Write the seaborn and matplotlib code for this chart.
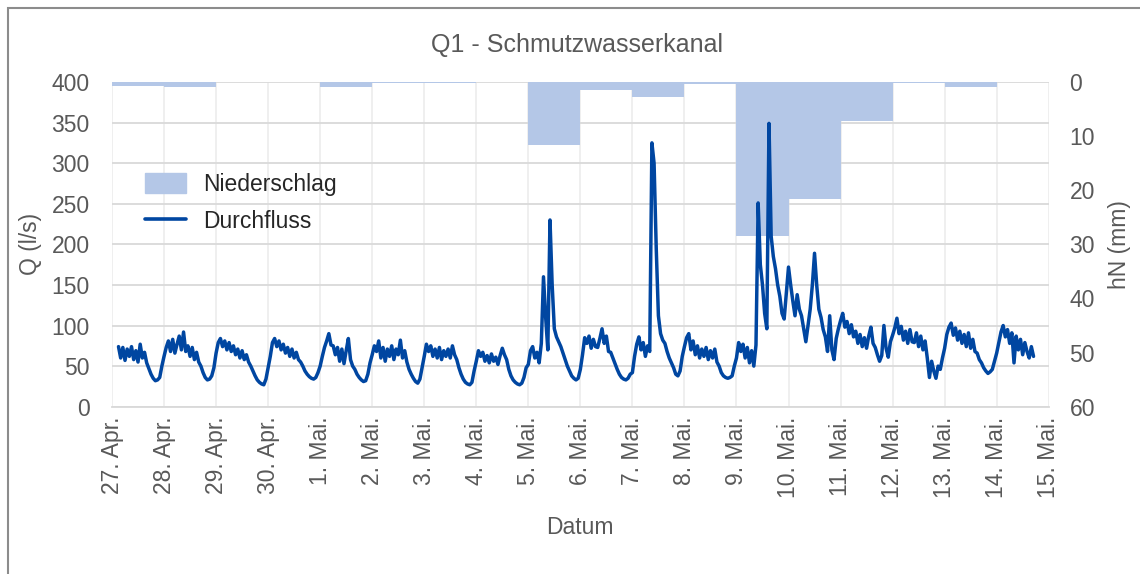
import numpy as np
import pandas as pd
import matplotlib
matplotlib.use("Agg")
import matplotlib.pyplot as plt
import seaborn as sns
from matplotlib.patches import Patch, Rectangle
from matplotlib.lines import Line2D

# ---------------- data ----------------
day_labels = ["27. Apr.", "28. Apr.", "29. Apr.", "30. Apr.", "1. Mai.", "2. Mai.", "3. Mai.",
              "4. Mai.", "5. Mai.", "6. Mai.", "7. Mai.", "8. Mai.", "9. Mai.", "10. Mai.",
              "11. Mai.", "12. Mai.", "13. Mai.", "14. Mai.", "15. Mai."]

# daily precipitation hN (mm), 27 Apr .. 14 Mai
niederschlag = [0.7, 0.85, 0.0, 0.0, 0.85, 0.15, 0.15, 0.0, 11.7, 1.5, 2.7, 0.4,
                28.5, 21.7, 7.2, 0.25, 0.9, 0.0]

# hourly discharge Q (l/s); series starts 27 Apr 03:00
start_hour = 3
q_27apr = [74, 60, 73, 57, 71, 62, 74, 58, 69, 55, 77, 60, 67, 54, 47, 40, 35, 32, 33, 36, 50]
q_28apr = [62, 73, 81, 68, 83, 66, 77, 87, 70, 92, 68, 75, 62, 73, 58, 67, 55, 50, 42, 36, 33, 34, 38, 48]
q_29apr = [66, 79, 84, 74, 81, 70, 79, 68, 75, 64, 71, 60, 69, 58, 64, 55, 50, 44, 38, 33, 30, 28, 27, 34]
q_30apr = [48, 62, 79, 84, 74, 81, 70, 77, 66, 73, 62, 71, 60, 67, 58, 55, 50, 44, 40, 37, 35, 34, 36, 42]
q_01mai = [50, 62, 73, 81, 90, 76, 75, 64, 73, 56, 71, 53, 69, 84, 58, 50, 46, 40, 36, 33, 31, 32, 40, 54]
q_02mai = [64, 75, 68, 81, 60, 73, 56, 71, 62, 75, 58, 71, 64, 82, 60, 69, 55, 46, 40, 35, 31, 29, 34, 48]
q_03mai = [62, 77, 68, 75, 62, 71, 60, 73, 58, 69, 62, 71, 60, 75, 64, 58, 48, 40, 34, 30, 28, 27, 30, 44]
q_04mai = [56, 69, 62, 67, 56, 63, 54, 65, 56, 61, 52, 63, 72, 64, 58, 46, 38, 33, 30, 28, 27, 29, 36, 48]
q_05mai = [52, 69, 74, 60, 67, 54, 78, 160, 110, 70, 230, 150, 96, 86, 80, 74, 66, 58, 50, 44, 38, 35, 33, 35]
q_06mai = [46, 64, 85, 78, 87, 72, 83, 74, 73, 84, 96, 78, 87, 68, 67, 60, 53, 46, 40, 36, 34, 33, 35, 40]
q_07mai = [42, 62, 77, 86, 70, 79, 62, 75, 68, 325, 300, 195, 112, 90, 82, 78, 68, 60, 54, 48, 40, 38, 44, 62]
q_08mai = [74, 85, 90, 70, 81, 64, 75, 60, 71, 62, 73, 58, 69, 60, 71, 55, 50, 42, 38, 36, 35, 36, 38, 50]
q_09mai = [60, 79, 68, 77, 60, 73, 54, 69, 50, 76, 251, 175, 150, 115, 96, 349, 210, 185, 170, 150, 136, 115, 108, 140]
q_10mai = [172, 150, 130, 112, 138, 120, 112, 96, 80, 100, 120, 150, 189, 150, 120, 110, 95, 86, 68, 112, 70, 58, 84, 96]
q_11mai = [106, 115, 98, 105, 90, 101, 86, 93, 78, 89, 74, 85, 72, 87, 98, 78, 73, 64, 56, 63, 100, 72, 61, 80]
q_12mai = [88, 97, 109, 90, 99, 82, 93, 78, 95, 80, 79, 91, 74, 87, 70, 81, 60, 36, 56, 44, 35, 50, 46, 60]
q_13mai = [72, 89, 98, 103, 88, 97, 82, 93, 78, 89, 74, 91, 72, 83, 68, 66, 58, 54, 48, 44, 41, 43, 46, 56]
q_14mai = [66, 79, 92, 100, 86, 95, 78, 91, 54, 87, 70, 83, 64, 79, 68, 60, 74, 62]

durchfluss = (q_27apr + q_28apr + q_29apr + q_30apr + q_01mai + q_02mai + q_03mai + q_04mai
              + q_05mai + q_06mai + q_07mai + q_08mai + q_09mai + q_10mai + q_11mai + q_12mai
              + q_13mai + q_14mai)

t_days = (start_hour + np.arange(len(durchfluss))) / 24.0
df_q = pd.DataFrame({"t": t_days, "Q": durchfluss})
day_centers = np.arange(len(niederschlag)) + 0.5
df_p = pd.DataFrame({"t": day_centers, "hN": niederschlag})

# ---------------- style ----------------
sns.set_theme(style="white")
plt.rcParams["font.family"] = ["Liberation Sans", "DejaVu Sans"]
GRAY = "#595959"
LINE = "#0046A1"
BAR = "#B4C7E7"
FS = 16.5

W, H = 1140, 574
fig = plt.figure(figsize=(W / 100, H / 100), dpi=100)
fig.patch.set_facecolor("white")
x0, x1, y0, y1 = 112, 1048.7, 82, 406.7
ax = fig.add_axes([x0 / W, 1 - y1 / H, (x1 - x0) / W, (y1 - y0) / H])
axP = ax.twinx()
axL = ax.twinx()

# precipitation bars (hanging from top, inverted axis)
sns.histplot(data=df_p, x="t", weights="hN", binwidth=1, binrange=(0, 18), ax=axP,
             color=BAR, alpha=1, linewidth=0, edgecolor=BAR, legend=False)
# discharge line
sns.lineplot(data=df_q, x="t", y="Q", ax=axL, color=LINE, linewidth=2.5, legend=False)

# ---- axes setup ----
ax.set_xlim(0, 18)
ax.set_ylim(0, 400)
ax.set_yticks(np.arange(0, 401, 50))
ax.set_xticks(np.arange(0, 19))
ax.set_xticklabels(day_labels, rotation=90)
ax.tick_params(axis="y", length=0, pad=16, labelsize=FS, labelcolor=GRAY)
ax.tick_params(axis="x", length=0, pad=7, labelsize=FS, labelcolor=GRAY)
for s in ["top", "left", "right"]:
    ax.spines[s].set_visible(False)
ax.spines["bottom"].set_color("#D9D9D9")
ax.spines["bottom"].set_linewidth(1.3)
ax.yaxis.grid(True, color="#D9D9D9", linewidth=1.3)
ax.xaxis.grid(True, color="#EEEEEE", linewidth=1.3)
ax.set_axisbelow(True)
ax.set_ylabel("Q (l/s)", fontsize=FS, color=GRAY, labelpad=7)
ax.set_xlabel("Datum", fontsize=FS, color=GRAY, labelpad=13)

axP.set_xlim(0, 18)
axP.set_ylim(60, 0)
axP.set_yticks(np.arange(0, 61, 10))
axP.tick_params(axis="y", length=0, pad=15, labelsize=FS, labelcolor=GRAY)
axP.set_ylabel("hN (mm)", fontsize=FS, color=GRAY, labelpad=9)
axP.set_xlabel("")
for s in axP.spines.values():
    s.set_visible(False)

axL.set_ylim(0, 400)
axL.set_xlim(0, 18)
axL.yaxis.set_visible(False)
axL.set_xlabel("")
for s in axL.spines.values():
    s.set_visible(False)

# legend
handles = [Patch(facecolor=BAR, edgecolor=BAR, label="Niederschlag"),
           Line2D([0], [0], color=LINE, linewidth=2.6, label="Durchfluss")]
fig.legend(handles=handles, loc="upper left", bbox_to_anchor=(145 / W, 1 - 173 / H),
           frameon=False, fontsize=FS, handlelength=1.8, handleheight=0.95,
           handletextpad=0.75, labelspacing=0.62, borderpad=0, borderaxespad=0)

# title
fig.text(0.506, 1 - 45 / H, "Q1 - Schmutzwasserkanal", ha="center", va="center",
         fontsize=18, color=GRAY)

# outer frame
fig.add_artist(Rectangle((8 / W, -0.2), 1.3, 1.2 - 8 / H, transform=fig.transFigure,
                         fill=False, edgecolor="#8C8C8C", linewidth=1.5))

fig.savefig("out.png", dpi=100)
